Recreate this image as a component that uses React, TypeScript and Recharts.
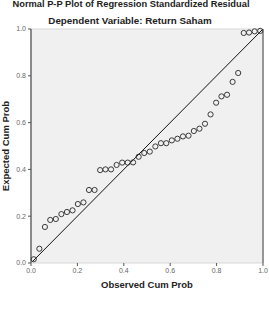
import React from 'react';
import { ScatterChart, Scatter, XAxis, YAxis, ReferenceLine, ReferenceArea } from 'recharts';

// observed cumulative probability (x) and expected cumulative probability (y)
const observed = [
  0.012, 0.036, 0.06, 0.083, 0.107, 0.131, 0.155, 0.179, 0.202, 0.226,
  0.25, 0.274, 0.298, 0.321, 0.345, 0.369, 0.393, 0.417, 0.44, 0.464,
  0.488, 0.512, 0.536, 0.56, 0.583, 0.607, 0.631, 0.655, 0.679, 0.702,
  0.726, 0.75, 0.774, 0.798, 0.821, 0.845, 0.869, 0.893, 0.917, 0.94,
  0.964, 0.988,
];
const expected = [
  0.016, 0.061, 0.154, 0.184, 0.188, 0.209, 0.218, 0.225, 0.252, 0.259,
  0.312, 0.312, 0.397, 0.4, 0.4, 0.419, 0.429, 0.429, 0.43, 0.454,
  0.47, 0.476, 0.498, 0.512, 0.512, 0.524, 0.531, 0.541, 0.544, 0.564,
  0.574, 0.595, 0.635, 0.685, 0.712, 0.719, 0.774, 0.812, 0.983, 0.985,
  0.99, 0.992,
];
const ticks = [0, 0.2, 0.4, 0.6, 0.8, 1];

const title = 'Normal P-P Plot of Regression Standardized Residual';
const subtitle = 'Dependent Variable: Return Saham';
const xLabel = 'Observed Cum Prob';
const yLabel = 'Expected Cum Prob';

const points = observed.map((x, i) => ({ x, y: expected[i] }));

const FONT = '"Liberation Sans", Arial, sans-serif';

const Ring = (props: any) => (
  <circle cx={props.cx} cy={props.cy} r={2.6} fill="none" stroke="#3a3a3a" strokeWidth={1} />
);

export default function App() {
  return (
    <div style={{ position: 'absolute', left: 0, top: 0, width: 269, height: 314, background: '#fff' }}>
      <ScatterChart width={269} height={314} margin={{ top: 29, right: 6, bottom: 31, left: 0 }}>
        <ReferenceArea x1={0} x2={1} y1={0} y2={1} fill="#f0f0f0" fillOpacity={1} stroke="#d8d8d8" strokeWidth={1} />
        <XAxis
          type="number"
          dataKey="x"
          domain={[0, 1]}
          ticks={ticks}
          tickFormatter={(v: number) => v.toFixed(1)}
          height={20}
          axisLine={false}
          tickLine={{ stroke: '#555' }}
          tickSize={3}
          tick={{ fontSize: 7, fill: '#666', fontFamily: FONT }}
        />
        <YAxis
          type="number"
          dataKey="y"
          domain={[0, 1]}
          ticks={ticks}
          tickFormatter={(v: number) => v.toFixed(1)}
          width={31}
          axisLine={{ stroke: '#8a8a8a', strokeWidth: 2 }}
          tickLine={{ stroke: '#555' }}
          tickSize={3}
          tick={{ fontSize: 7, fill: '#666', fontFamily: FONT }}
        />
        <ReferenceLine x={1} stroke="#444" strokeWidth={1} />
        <ReferenceLine segment={[{ x: 0, y: 0 }, { x: 1, y: 1 }]} stroke="#111" strokeWidth={1} />
        <Scatter data={points} shape={Ring} isAnimationActive={false} />
      </ScatterChart>
      <svg width={269} height={314} style={{ position: 'absolute', left: 0, top: 0, pointerEvents: 'none' }}>
        <text x={131} y={6.5} textAnchor="middle" fontFamily={FONT} fontWeight="bold" fontSize={9.3} fill="#222">
          {title}
        </text>
        <text x={130} y={24} textAnchor="middle" fontFamily={FONT} fontWeight="bold" fontSize={9.8} fill="#222">
          {subtitle}
        </text>
        <text x={147} y={288} textAnchor="middle" fontFamily={FONT} fontWeight="bold" fontSize={9.5} fill="#222">
          {xLabel}
        </text>
        <text
          x={9}
          y={146}
          textAnchor="middle"
          transform="rotate(-90, 9, 146)"
          fontFamily={FONT}
          fontWeight="bold"
          fontSize={9.5}
          fill="#222"
        >
          {yLabel}
        </text>
      </svg>
    </div>
  );
}
